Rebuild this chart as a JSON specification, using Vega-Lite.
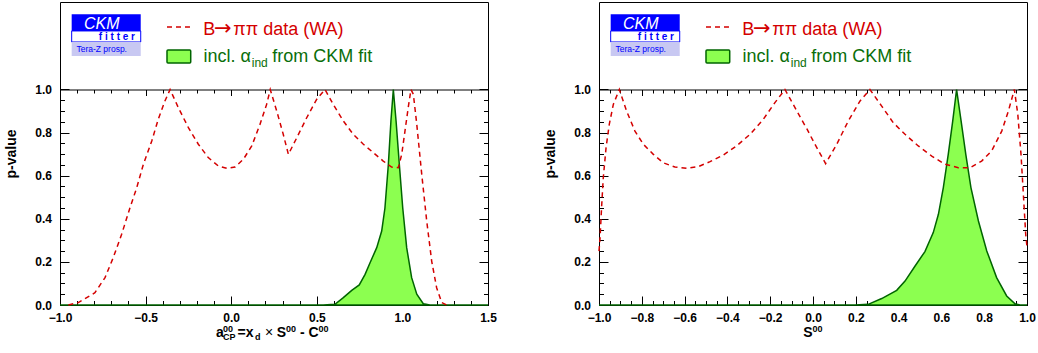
{
  "$schema": "https://vega.github.io/schema/vega-lite/v6.json",
  "background": "white",
  "padding": {"left": 4, "top": 1, "right": 0, "bottom": 0},
  "config": {
    "view": {"stroke": "#000000", "strokeWidth": 1},
    "font": "Liberation Sans",
    "axis": {
      "domain": false, "grid": false, "tickColor": "#000000", "tickWidth": 1,
      "labelFont": "Liberation Sans", "labelFontWeight": "bold", "labelFontSize": 12, "labelColor": "#000000",
      "labelFlush": false, "labelOverlap": false,
      "titleFont": "Liberation Sans", "titleFontWeight": "bold", "titleFontSize": 14, "titleColor": "#000000"
    }
  },
  "datasets": {
    "one": [{}],
    "redL": [
      {"x": -0.951, "p": 0}, {"x": -0.893, "p": 0.011}, {"x": -0.796, "p": 0.057}, {"x": -0.737, "p": 0.127},
      {"x": -0.689, "p": 0.22}, {"x": -0.64, "p": 0.328}, {"x": -0.591, "p": 0.452}, {"x": -0.552, "p": 0.544},
      {"x": -0.513, "p": 0.653}, {"x": -0.464, "p": 0.761}, {"x": -0.426, "p": 0.862}, {"x": -0.387, "p": 0.947},
      {"x": -0.357, "p": 1.0}, {"x": -0.309, "p": 0.916}, {"x": -0.25, "p": 0.823}, {"x": -0.192, "p": 0.746},
      {"x": -0.134, "p": 0.684}, {"x": -0.075, "p": 0.645}, {"x": -0.026, "p": 0.634}, {"x": 0.022, "p": 0.64},
      {"x": 0.071, "p": 0.676}, {"x": 0.12, "p": 0.738}, {"x": 0.168, "p": 0.838}, {"x": 0.207, "p": 0.931},
      {"x": 0.228, "p": 1.0}, {"x": 0.266, "p": 0.9}, {"x": 0.304, "p": 0.792}, {"x": 0.334, "p": 0.699},
      {"x": 0.383, "p": 0.776}, {"x": 0.441, "p": 0.869}, {"x": 0.499, "p": 0.954}, {"x": 0.548, "p": 1.0},
      {"x": 0.596, "p": 0.931}, {"x": 0.655, "p": 0.854}, {"x": 0.713, "p": 0.792}, {"x": 0.772, "p": 0.746},
      {"x": 0.83, "p": 0.707}, {"x": 0.888, "p": 0.668}, {"x": 0.937, "p": 0.64}, {"x": 0.976, "p": 0.637},
      {"x": 0.996, "p": 0.699}, {"x": 1.015, "p": 0.807}, {"x": 1.034, "p": 0.916}, {"x": 1.05, "p": 1.0},
      {"x": 1.064, "p": 0.978}, {"x": 1.084, "p": 0.838}, {"x": 1.113, "p": 0.606}, {"x": 1.142, "p": 0.39},
      {"x": 1.171, "p": 0.204}, {"x": 1.2, "p": 0.08}, {"x": 1.23, "p": 0.011}, {"x": 1.259, "p": 0}
    ],
    "greenL": [
      {"x": -1.0, "p": 0}, {"x": 0.538, "p": 0}, {"x": 0.606, "p": 0.003}, {"x": 0.655, "p": 0.034},
      {"x": 0.704, "p": 0.068}, {"x": 0.748, "p": 0.093}, {"x": 0.782, "p": 0.142}, {"x": 0.811, "p": 0.196},
      {"x": 0.85, "p": 0.266}, {"x": 0.879, "p": 0.343}, {"x": 0.898, "p": 0.45}, {"x": 0.918, "p": 0.653},
      {"x": 0.933, "p": 0.854}, {"x": 0.947, "p": 1.0}, {"x": 0.963, "p": 0.854}, {"x": 0.982, "p": 0.653},
      {"x": 1.002, "p": 0.45}, {"x": 1.025, "p": 0.266}, {"x": 1.054, "p": 0.127}, {"x": 1.084, "p": 0.05},
      {"x": 1.122, "p": 0.006}, {"x": 1.161, "p": 0}, {"x": 1.5, "p": 0}
    ],
    "redR": [
      {"x": -1.0, "p": 0.25}, {"x": -0.995, "p": 0.312}, {"x": -0.988, "p": 0.452}, {"x": -0.98, "p": 0.591},
      {"x": -0.967, "p": 0.73}, {"x": -0.952, "p": 0.838}, {"x": -0.933, "p": 0.931}, {"x": -0.905, "p": 1.0},
      {"x": -0.871, "p": 0.9}, {"x": -0.832, "p": 0.807}, {"x": -0.793, "p": 0.746}, {"x": -0.746, "p": 0.699},
      {"x": -0.7, "p": 0.66}, {"x": -0.645, "p": 0.64}, {"x": -0.59, "p": 0.634}, {"x": -0.536, "p": 0.642},
      {"x": -0.481, "p": 0.665}, {"x": -0.419, "p": 0.696}, {"x": -0.357, "p": 0.738}, {"x": -0.294, "p": 0.792},
      {"x": -0.232, "p": 0.862}, {"x": -0.178, "p": 0.939}, {"x": -0.131, "p": 1.0}, {"x": -0.092, "p": 0.93},
      {"x": -0.053, "p": 0.86}, {"x": -0.029, "p": 0.818}, {"x": 0.009, "p": 0.746}, {"x": 0.059, "p": 0.656},
      {"x": 0.111, "p": 0.746}, {"x": 0.165, "p": 0.854}, {"x": 0.22, "p": 0.947}, {"x": 0.266, "p": 1.0},
      {"x": 0.321, "p": 0.923}, {"x": 0.375, "p": 0.846}, {"x": 0.43, "p": 0.792}, {"x": 0.492, "p": 0.738},
      {"x": 0.555, "p": 0.691}, {"x": 0.617, "p": 0.653}, {"x": 0.679, "p": 0.637}, {"x": 0.734, "p": 0.637},
      {"x": 0.788, "p": 0.668}, {"x": 0.835, "p": 0.715}, {"x": 0.882, "p": 0.807}, {"x": 0.913, "p": 0.9},
      {"x": 0.941, "p": 1.0}, {"x": 0.957, "p": 0.885}, {"x": 0.972, "p": 0.699}, {"x": 0.983, "p": 0.514},
      {"x": 0.994, "p": 0.328}, {"x": 1.0, "p": 0.27}
    ],
    "greenR": [
      {"x": -1.0, "p": 0}, {"x": 0.196, "p": 0}, {"x": 0.258, "p": 0.003}, {"x": 0.321, "p": 0.03},
      {"x": 0.391, "p": 0.068}, {"x": 0.43, "p": 0.111}, {"x": 0.477, "p": 0.181}, {"x": 0.523, "p": 0.248},
      {"x": 0.562, "p": 0.336}, {"x": 0.586, "p": 0.421}, {"x": 0.609, "p": 0.545}, {"x": 0.632, "p": 0.699},
      {"x": 0.653, "p": 0.854}, {"x": 0.671, "p": 1.0}, {"x": 0.692, "p": 0.854}, {"x": 0.714, "p": 0.699},
      {"x": 0.738, "p": 0.545}, {"x": 0.773, "p": 0.39}, {"x": 0.812, "p": 0.251}, {"x": 0.858, "p": 0.127},
      {"x": 0.905, "p": 0.042}, {"x": 0.944, "p": 0.006}, {"x": 0.967, "p": 0}, {"x": 1.0, "p": 0}
    ]
  },
  "spacing": 111,
  "bounds": "flush",
  "hconcat": [
    {
      "width": 428, "height": 303,
      "resolve": {"axis": {"x": "independent", "y": "independent"}},
      "layer": [
        {"data": {"name": "greenL"},
         "mark": {"type": "area", "fill": "#8cff50", "stroke": "#006400", "strokeWidth": 1.5},
         "encoding": {
           "x": {"field": "x", "type": "quantitative", "scale": {"domain": [-1, 1.5], "nice": false, "zero": false},
                 "axis": {"orient": "bottom", "values": [-1, -0.5, 0, 0.5, 1, 1.5], "format": ".1f", "tickSize": -9, "labelPadding": 16.5, "title": null}},
           "y": {"field": "p", "type": "quantitative", "scale": {"domain": [0, 1.406], "nice": false, "zero": false},
                 "axis": {"orient": "left", "values": [0, 0.2, 0.4, 0.6, 0.8, 1], "format": ".1f", "tickSize": -9, "labelPadding": 17.5, "title": "p-value", "titlePadding": 16}}
         }},
        {"data": {"name": "redL"},
         "mark": {"type": "line", "stroke": "#d40000", "strokeWidth": 1.5, "strokeDash": [5, 4]},
         "encoding": {
           "x": {"field": "x", "type": "quantitative",
                 "axis": {"orient": "bottom", "values": [-1, -0.9, -0.8, -0.7, -0.6, -0.5, -0.4, -0.3, -0.2, -0.1, 0, 0.1, 0.2, 0.3, 0.4, 0.5, 0.6, 0.7, 0.8, 0.9, 1, 1.1, 1.2, 1.3, 1.4, 1.5], "tickSize": -4.5, "labels": false, "title": null}},
           "y": {"field": "p", "type": "quantitative",
                 "axis": {"orient": "left", "values": [0, 0.05, 0.1, 0.15, 0.2, 0.25, 0.3, 0.35, 0.4, 0.45, 0.5, 0.55, 0.6, 0.65, 0.7, 0.75, 0.8, 0.85, 0.9, 0.95, 1], "tickSize": -4.5, "labels": false, "title": null}}
         }},
        {"data": {"name": "one"},
         "mark": {"type": "text", "text": "a", "fontWeight": "bold", "fontSize": 14, "align": "left", "baseline": "alphabetic"},
         "encoding": {
           "x": {"datum": -0.0888, "type": "quantitative",
                 "axis": {"orient": "top", "offset": -87.5, "domain": true, "domainColor": "#000000", "domainWidth": 1, "values": [-1, -0.5, 0, 0.5, 1, 1.5], "tickSize": -6, "labels": false, "title": null}},
           "y": {"datum": -0.1485, "type": "quantitative",
                 "axis": {"orient": "right", "values": [0, 0.2, 0.4, 0.6, 0.8, 1], "tickSize": -9, "labels": false, "title": null}}
         }},
        {"data": {"name": "one"},
         "mark": {"type": "text", "text": "00", "fontWeight": "bold", "fontSize": 9, "align": "left", "baseline": "alphabetic"},
         "encoding": {
           "x": {"datum": -0.0479, "type": "quantitative",
                 "axis": {"orient": "top", "offset": -87.5, "values": [-1, -0.9, -0.8, -0.7, -0.6, -0.5, -0.4, -0.3, -0.2, -0.1, 0, 0.1, 0.2, 0.3, 0.4, 0.5, 0.6, 0.7, 0.8, 0.9, 1, 1.1, 1.2, 1.3, 1.4, 1.5], "tickSize": -3.5, "labels": false, "title": null}},
           "y": {"datum": -0.123, "type": "quantitative",
                 "axis": {"orient": "right", "values": [0, 0.05, 0.1, 0.15, 0.2, 0.25, 0.3, 0.35, 0.4, 0.45, 0.5, 0.55, 0.6, 0.65, 0.7, 0.75, 0.8, 0.85, 0.9, 0.95, 1], "tickSize": -4.5, "labels": false, "title": null}}
         }},
        {"data": {"name": "one"},
         "mark": {"type": "text", "text": "CP", "fontWeight": "bold", "fontSize": 9, "align": "left", "baseline": "alphabetic"},
         "encoding": {"x": {"datum": -0.0479, "type": "quantitative", "axis": null}, "y": {"datum": -0.1624, "type": "quantitative", "axis": null}}},
        {"data": {"name": "one"},
         "mark": {"type": "text", "text": "=x", "fontWeight": "bold", "fontSize": 14, "align": "left", "baseline": "alphabetic"},
         "encoding": {"x": {"datum": 0.0368, "type": "quantitative", "axis": null}, "y": {"datum": -0.1485, "type": "quantitative", "axis": null}}},
        {"data": {"name": "one"},
         "mark": {"type": "text", "text": "d", "fontWeight": "bold", "fontSize": 9, "align": "left", "baseline": "alphabetic"},
         "encoding": {"x": {"datum": 0.139, "type": "quantitative", "axis": null}, "y": {"datum": -0.1624, "type": "quantitative", "axis": null}}},
        {"data": {"name": "one"},
         "mark": {"type": "text", "text": "×", "fontSize": 14, "align": "left", "baseline": "alphabetic"},
         "encoding": {"x": {"datum": 0.1974, "type": "quantitative", "axis": null}, "y": {"datum": -0.1485, "type": "quantitative", "axis": null}}},
        {"data": {"name": "one"},
         "mark": {"type": "text", "text": "S", "fontWeight": "bold", "fontSize": 14, "align": "left", "baseline": "alphabetic"},
         "encoding": {"x": {"datum": 0.2658, "type": "quantitative", "axis": null}, "y": {"datum": -0.1485, "type": "quantitative", "axis": null}}},
        {"data": {"name": "one"},
         "mark": {"type": "text", "text": "00", "fontWeight": "bold", "fontSize": 9, "align": "left", "baseline": "alphabetic"},
         "encoding": {"x": {"datum": 0.3199, "type": "quantitative", "axis": null}, "y": {"datum": -0.123, "type": "quantitative", "axis": null}}},
        {"data": {"name": "one"},
         "mark": {"type": "text", "text": "- C", "fontWeight": "bold", "fontSize": 14, "align": "left", "baseline": "alphabetic"},
         "encoding": {"x": {"datum": 0.4019, "type": "quantitative", "axis": null}, "y": {"datum": -0.1485, "type": "quantitative", "axis": null}}},
        {"data": {"name": "one"},
         "mark": {"type": "text", "text": "00", "fontWeight": "bold", "fontSize": 9, "align": "left", "baseline": "alphabetic"},
         "encoding": {"x": {"datum": 0.5105, "type": "quantitative", "axis": null}, "y": {"datum": -0.123, "type": "quantitative", "axis": null}}},
        {"data": {"name": "one"},
         "mark": {"type": "rect", "fill": "#0000ff"},
         "encoding": {"x": {"datum": -0.9318, "type": "quantitative", "axis": null}, "x2": {"datum": -0.5285},
                      "y": {"datum": 1.3488, "type": "quantitative", "axis": null}, "y2": {"datum": 1.2716}}},
        {"data": {"name": "one"},
         "mark": {"type": "rect", "fill": "#ffffff", "stroke": "#0000ff", "strokeWidth": 1},
         "encoding": {"x": {"datum": -0.9318, "type": "quantitative", "axis": null}, "x2": {"datum": -0.5285},
                      "y": {"datum": 1.2716, "type": "quantitative", "axis": null}, "y2": {"datum": 1.2205}}},
        {"data": {"name": "one"},
         "mark": {"type": "rect", "fill": "#c8c8f2"},
         "encoding": {"x": {"datum": -0.9318, "type": "quantitative", "axis": null}, "x2": {"datum": -0.5285},
                      "y": {"datum": 1.2205, "type": "quantitative", "axis": null}, "y2": {"datum": 1.1555}}},
        {"data": {"name": "one"},
         "mark": {"type": "text", "text": "CKM", "fontStyle": "italic", "fontSize": 16, "fill": "#ffffff", "align": "center", "baseline": "alphabetic"},
         "encoding": {"x": {"datum": -0.7565, "type": "quantitative", "axis": null}, "y": {"datum": 1.2805, "type": "quantitative", "axis": null}}},
        {"data": {"name": "one"},
         "mark": {"type": "text", "text": "f i t t e r", "fontWeight": "bold", "fontSize": 10, "fill": "#0000ff", "align": "right", "baseline": "alphabetic"},
         "encoding": {"x": {"datum": -0.562, "type": "quantitative", "axis": null}, "y": {"datum": 1.231, "type": "quantitative", "axis": null}}},
        {"data": {"name": "one"},
         "mark": {"type": "text", "text": "Tera-Z prosp.", "fontSize": 8.5, "fill": "#0000ff", "align": "center", "baseline": "alphabetic"},
         "encoding": {"x": {"datum": -0.7565, "type": "quantitative", "axis": null}, "y": {"datum": 1.1754, "type": "quantitative", "axis": null}}},
        {"data": {"name": "one"},
         "mark": {"type": "rule", "stroke": "#d40000", "strokeWidth": 1.5, "strokeDash": [5, 4]},
         "encoding": {"x": {"datum": -0.375, "type": "quantitative", "axis": null}, "x2": {"datum": -0.2408}, "y": {"datum": 1.2899, "type": "quantitative", "axis": null}}},
        {"data": {"name": "one"},
         "mark": {"type": "text", "text": "B", "fontSize": 18, "fill": "#d40000", "align": "left", "baseline": "alphabetic"},
         "encoding": {"x": {"datum": -0.1629, "type": "quantitative", "axis": null}, "y": {"datum": 1.2529, "type": "quantitative", "axis": null}}},
        {"data": {"name": "one"},
         "mark": {"type": "text", "text": "→", "font": "DejaVu Sans", "fontSize": 21, "fill": "#d40000", "align": "left", "baseline": "alphabetic"},
         "encoding": {"x": {"datum": -0.1005, "type": "quantitative", "axis": null}, "y": {"datum": 1.2529, "type": "quantitative", "axis": null}}},
        {"data": {"name": "one"},
         "mark": {"type": "text", "text": "ππ data (WA)", "fontSize": 18, "fill": "#d40000", "align": "left", "baseline": "alphabetic"},
         "encoding": {"x": {"datum": 0.0123, "type": "quantitative", "axis": null}, "y": {"datum": 1.2529, "type": "quantitative", "axis": null}}},
        {"data": {"name": "one"},
         "mark": {"type": "rect", "fill": "#8cff50", "stroke": "#006400", "strokeWidth": 1.5, "cornerRadius": 1},
         "encoding": {"x": {"datum": -0.375, "type": "quantitative", "axis": null}, "x2": {"datum": -0.2365},
                      "y": {"datum": 1.1831, "type": "quantitative", "axis": null}, "y2": {"datum": 1.123}}},
        {"data": {"name": "one"},
         "mark": {"type": "text", "text": "incl. α", "fontSize": 18, "fill": "#0a6e0a", "align": "left", "baseline": "alphabetic"},
         "encoding": {"x": {"datum": -0.1625, "type": "quantitative", "axis": null}, "y": {"datum": 1.1275, "type": "quantitative", "axis": null}}},
        {"data": {"name": "one"},
         "mark": {"type": "text", "text": "ind", "fontSize": 12, "fill": "#0a6e0a", "align": "left", "baseline": "alphabetic"},
         "encoding": {"x": {"datum": 0.12, "type": "quantitative", "axis": null}, "y": {"datum": 1.1043, "type": "quantitative", "axis": null}}},
        {"data": {"name": "one"},
         "mark": {"type": "text", "text": "from CKM fit", "fontSize": 18, "fill": "#0a6e0a", "align": "left", "baseline": "alphabetic"},
         "encoding": {"x": {"datum": 0.24, "type": "quantitative", "axis": null}, "y": {"datum": 1.1275, "type": "quantitative", "axis": null}}}
      ]
    },
    {
      "width": 428, "height": 303,
      "resolve": {"axis": {"x": "independent", "y": "independent"}},
      "layer": [
        {"data": {"name": "greenR"},
         "mark": {"type": "area", "fill": "#8cff50", "stroke": "#006400", "strokeWidth": 1.5},
         "encoding": {
           "x": {"field": "x", "type": "quantitative", "scale": {"domain": [-1, 1], "nice": false, "zero": false},
                 "axis": {"orient": "bottom", "values": [-1, -0.8, -0.6, -0.4, -0.2, 0, 0.2, 0.4, 0.6, 0.8, 1], "format": ".1f", "tickSize": -9, "labelPadding": 16.5, "title": null}},
           "y": {"field": "p", "type": "quantitative", "scale": {"domain": [0, 1.406], "nice": false, "zero": false},
                 "axis": {"orient": "left", "values": [0, 0.2, 0.4, 0.6, 0.8, 1], "format": ".1f", "tickSize": -9, "labelPadding": 17.5, "title": "p-value", "titlePadding": 16}}
         }},
        {"data": {"name": "redR"},
         "mark": {"type": "line", "stroke": "#d40000", "strokeWidth": 1.5, "strokeDash": [5, 4]},
         "encoding": {
           "x": {"field": "x", "type": "quantitative",
                 "axis": {"orient": "bottom", "values": [-1, -0.95, -0.9, -0.85, -0.8, -0.75, -0.7, -0.65, -0.6, -0.55, -0.5, -0.45, -0.4, -0.35, -0.3, -0.25, -0.2, -0.15, -0.1, -0.05, 0, 0.05, 0.1, 0.15, 0.2, 0.25, 0.3, 0.35, 0.4, 0.45, 0.5, 0.55, 0.6, 0.65, 0.7, 0.75, 0.8, 0.85, 0.9, 0.95, 1], "tickSize": -4.5, "labels": false, "title": null}},
           "y": {"field": "p", "type": "quantitative",
                 "axis": {"orient": "left", "values": [0, 0.05, 0.1, 0.15, 0.2, 0.25, 0.3, 0.35, 0.4, 0.45, 0.5, 0.55, 0.6, 0.65, 0.7, 0.75, 0.8, 0.85, 0.9, 0.95, 1], "tickSize": -4.5, "labels": false, "title": null}}
         }},
        {"data": {"name": "one"},
         "mark": {"type": "text", "text": "S", "fontWeight": "bold", "fontSize": 14, "align": "left", "baseline": "alphabetic"},
         "encoding": {
           "x": {"datum": -0.0453, "type": "quantitative",
                 "axis": {"orient": "top", "offset": -87.5, "domain": true, "domainColor": "#000000", "domainWidth": 1, "values": [-1, -0.8, -0.6, -0.4, -0.2, 0, 0.2, 0.4, 0.6, 0.8, 1], "tickSize": -6, "labels": false, "title": null}},
           "y": {"datum": -0.1485, "type": "quantitative",
                 "axis": {"orient": "right", "values": [0, 0.2, 0.4, 0.6, 0.8, 1], "tickSize": -9, "labels": false, "title": null}}
         }},
        {"data": {"name": "one"},
         "mark": {"type": "text", "text": "00", "fontWeight": "bold", "fontSize": 9, "align": "left", "baseline": "alphabetic"},
         "encoding": {
           "x": {"datum": -0.002, "type": "quantitative",
                 "axis": {"orient": "top", "offset": -87.5, "values": [-1, -0.95, -0.9, -0.85, -0.8, -0.75, -0.7, -0.65, -0.6, -0.55, -0.5, -0.45, -0.4, -0.35, -0.3, -0.25, -0.2, -0.15, -0.1, -0.05, 0, 0.05, 0.1, 0.15, 0.2, 0.25, 0.3, 0.35, 0.4, 0.45, 0.5, 0.55, 0.6, 0.65, 0.7, 0.75, 0.8, 0.85, 0.9, 0.95, 1], "tickSize": -3.5, "labels": false, "title": null}},
           "y": {"datum": -0.123, "type": "quantitative",
                 "axis": {"orient": "right", "values": [0, 0.05, 0.1, 0.15, 0.2, 0.25, 0.3, 0.35, 0.4, 0.45, 0.5, 0.55, 0.6, 0.65, 0.7, 0.75, 0.8, 0.85, 0.9, 0.95, 1], "tickSize": -4.5, "labels": false, "title": null}}
         }},
        {"data": {"name": "one"},
         "mark": {"type": "rect", "fill": "#0000ff"},
         "encoding": {"x": {"datum": -0.9454, "type": "quantitative", "axis": null}, "x2": {"datum": -0.6228},
                      "y": {"datum": 1.3488, "type": "quantitative", "axis": null}, "y2": {"datum": 1.2716}}},
        {"data": {"name": "one"},
         "mark": {"type": "rect", "fill": "#ffffff", "stroke": "#0000ff", "strokeWidth": 1},
         "encoding": {"x": {"datum": -0.9454, "type": "quantitative", "axis": null}, "x2": {"datum": -0.6228},
                      "y": {"datum": 1.2716, "type": "quantitative", "axis": null}, "y2": {"datum": 1.2205}}},
        {"data": {"name": "one"},
         "mark": {"type": "rect", "fill": "#c8c8f2"},
         "encoding": {"x": {"datum": -0.9454, "type": "quantitative", "axis": null}, "x2": {"datum": -0.6228},
                      "y": {"datum": 1.2205, "type": "quantitative", "axis": null}, "y2": {"datum": 1.1555}}},
        {"data": {"name": "one"},
         "mark": {"type": "text", "text": "CKM", "fontStyle": "italic", "fontSize": 16, "fill": "#ffffff", "align": "center", "baseline": "alphabetic"},
         "encoding": {"x": {"datum": -0.8052, "type": "quantitative", "axis": null}, "y": {"datum": 1.2805, "type": "quantitative", "axis": null}}},
        {"data": {"name": "one"},
         "mark": {"type": "text", "text": "f i t t e r", "fontWeight": "bold", "fontSize": 10, "fill": "#0000ff", "align": "right", "baseline": "alphabetic"},
         "encoding": {"x": {"datum": -0.6496, "type": "quantitative", "axis": null}, "y": {"datum": 1.231, "type": "quantitative", "axis": null}}},
        {"data": {"name": "one"},
         "mark": {"type": "text", "text": "Tera-Z prosp.", "fontSize": 8.5, "fill": "#0000ff", "align": "center", "baseline": "alphabetic"},
         "encoding": {"x": {"datum": -0.8052, "type": "quantitative", "axis": null}, "y": {"datum": 1.1754, "type": "quantitative", "axis": null}}},
        {"data": {"name": "one"},
         "mark": {"type": "rule", "stroke": "#d40000", "strokeWidth": 1.5, "strokeDash": [5, 4]},
         "encoding": {"x": {"datum": -0.5, "type": "quantitative", "axis": null}, "x2": {"datum": -0.3926}, "y": {"datum": 1.2899, "type": "quantitative", "axis": null}}},
        {"data": {"name": "one"},
         "mark": {"type": "text", "text": "B", "fontSize": 18, "fill": "#d40000", "align": "left", "baseline": "alphabetic"},
         "encoding": {"x": {"datum": -0.3304, "type": "quantitative", "axis": null}, "y": {"datum": 1.2529, "type": "quantitative", "axis": null}}},
        {"data": {"name": "one"},
         "mark": {"type": "text", "text": "→", "font": "DejaVu Sans", "fontSize": 21, "fill": "#d40000", "align": "left", "baseline": "alphabetic"},
         "encoding": {"x": {"datum": -0.2804, "type": "quantitative", "axis": null}, "y": {"datum": 1.2529, "type": "quantitative", "axis": null}}},
        {"data": {"name": "one"},
         "mark": {"type": "text", "text": "ππ data (WA)", "fontSize": 18, "fill": "#d40000", "align": "left", "baseline": "alphabetic"},
         "encoding": {"x": {"datum": -0.1902, "type": "quantitative", "axis": null}, "y": {"datum": 1.2529, "type": "quantitative", "axis": null}}},
        {"data": {"name": "one"},
         "mark": {"type": "rect", "fill": "#8cff50", "stroke": "#006400", "strokeWidth": 1.5, "cornerRadius": 1},
         "encoding": {"x": {"datum": -0.5, "type": "quantitative", "axis": null}, "x2": {"datum": -0.3892},
                      "y": {"datum": 1.1831, "type": "quantitative", "axis": null}, "y2": {"datum": 1.123}}},
        {"data": {"name": "one"},
         "mark": {"type": "text", "text": "incl. α", "fontSize": 18, "fill": "#0a6e0a", "align": "left", "baseline": "alphabetic"},
         "encoding": {"x": {"datum": -0.33, "type": "quantitative", "axis": null}, "y": {"datum": 1.1275, "type": "quantitative", "axis": null}}},
        {"data": {"name": "one"},
         "mark": {"type": "text", "text": "ind", "fontSize": 12, "fill": "#0a6e0a", "align": "left", "baseline": "alphabetic"},
         "encoding": {"x": {"datum": -0.104, "type": "quantitative", "axis": null}, "y": {"datum": 1.1043, "type": "quantitative", "axis": null}}},
        {"data": {"name": "one"},
         "mark": {"type": "text", "text": "from CKM fit", "fontSize": 18, "fill": "#0a6e0a", "align": "left", "baseline": "alphabetic"},
         "encoding": {"x": {"datum": -0.008, "type": "quantitative", "axis": null}, "y": {"datum": 1.1275, "type": "quantitative", "axis": null}}}
      ]
    }
  ]
}
